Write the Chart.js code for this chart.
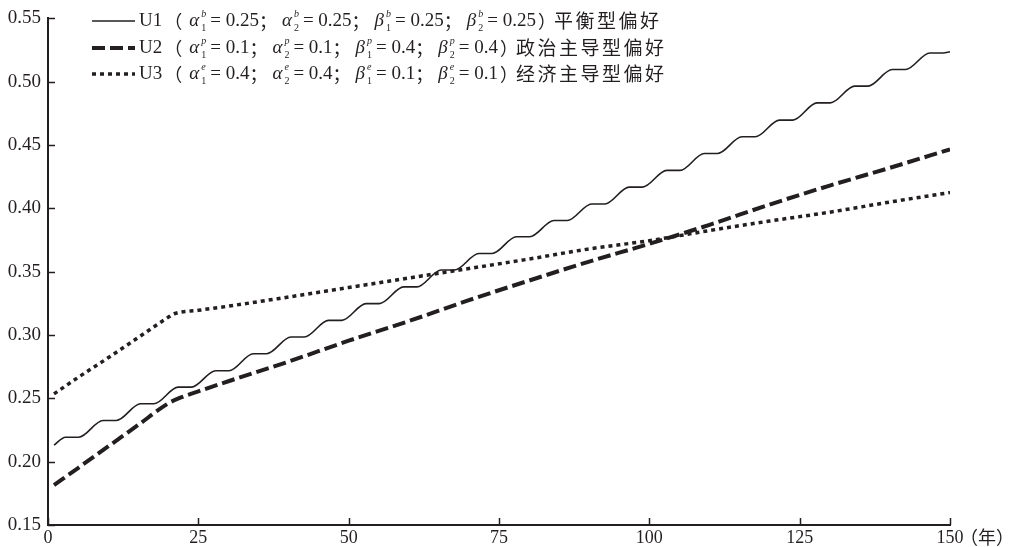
<!DOCTYPE html>
<html>
<head>
<meta charset="utf-8">
<script src="https://cdn.jsdelivr.net/npm/chart.js@4.4.0/dist/chart.umd.min.js"></script>
<style>
html, body { margin: 0; padding: 0; background: #fff; }
#wrap { width: 1017px; height: 547px; }
</style>
</head>
<body>
<div id="wrap"><canvas id="myChart" width="1017" height="547"></canvas></div>
<script>
// values
const xTicks = [0, 25, 50, 75, 100, 125, 150];
const yTicks = [0.15, 0.20, 0.25, 0.30, 0.35, 0.40, 0.45, 0.50, 0.55];

// U1: wavy line, plateau edges then rises
const u1Years = [1,
    2.9, 5.1, 9.15, 11.35, 15.4, 17.6, 21.65, 23.85, 27.9, 30.1, 34.15, 36.35,
    40.4, 42.6, 46.65, 48.85, 52.9, 55.1, 59.15, 61.35, 65.4, 67.6, 71.65, 73.85,
    77.9, 80.1, 84.15, 86.35, 90.4, 92.6, 96.65, 98.85, 102.9, 105.1, 109.15, 111.35,
    115.4, 117.6, 121.65, 123.85, 127.9, 130.1, 134.15, 136.35, 140.4, 142.6, 146.65, 148.85,
    150];
const u1Values = [0.213,
    0.2193, 0.2193, 0.2325, 0.2325, 0.2457, 0.2457, 0.2589, 0.2589, 0.2718, 0.2718, 0.2852, 0.2852,
    0.2984, 0.2984, 0.3116, 0.3116, 0.3248, 0.3248, 0.3380, 0.3380, 0.3513, 0.3513, 0.3644, 0.3644,
    0.3776, 0.3776, 0.3904, 0.3904, 0.4035, 0.4035, 0.4168, 0.4168, 0.4300, 0.4300, 0.4433, 0.4433,
    0.4565, 0.4565, 0.4697, 0.4697, 0.4833, 0.4833, 0.4965, 0.4965, 0.5096, 0.5096, 0.5227, 0.5227,
    0.5237];

const u2Years = [1, 5, 10, 15, 20, 22, 25, 30, 40, 50, 60, 70, 80, 90, 100, 110, 120, 130, 140, 150];
const u2Values = [0.1815, 0.195, 0.212, 0.229, 0.246, 0.2505, 0.2555, 0.2635, 0.279, 0.2955, 0.311,
    0.3275, 0.343, 0.358, 0.372, 0.387, 0.403, 0.418, 0.432, 0.4466];

const u3Years = [1, 5, 10, 15, 20, 21, 25, 30, 40, 50, 60, 70, 80, 90, 100, 110, 120, 130, 140, 150];
const u3Values = [0.2535, 0.2665, 0.282, 0.298, 0.314, 0.3168, 0.3195, 0.3228, 0.330, 0.3375, 0.345,
    0.3525, 0.360, 0.368, 0.3745, 0.3825, 0.390, 0.397, 0.405, 0.4125];

const seriesNames = ["U1", "U2", "U3"];
const prefNames = ["平衡型偏好", "政治主导型偏好", "经济主导型偏好"];
const prefSup = ["b", "p", "e"];
const prefVals = [
    ["0.25", "0.25", "0.25", "0.25"],
    ["0.1", "0.1", "0.4", "0.4"],
    ["0.4", "0.4", "0.1", "0.1"]
];

const ink = "#231f20";
const serif = '"Liberation Serif", "DejaVu Serif", serif';
const cjk = '"Noto Sans CJK SC", sans-serif';

function pts(xs, ys) {
    return xs.map(function (x, i) { return { x: x, y: ys[i] }; });
}

const lineStyles = [
    { width: 1.6, dash: [] },
    { width: 4, dash: [13, 5] },
    { width: 3.5, dash: [4, 4] }
];

// inward ticks, legend and the (年) unit
const frame = {
    id: "frame",
    afterDraw(chart) {
        const ctx = chart.ctx;
        const xs = chart.scales.x, ys = chart.scales.y;
        const a = chart.chartArea;
        ctx.save();
        ctx.strokeStyle = ink;
        ctx.lineWidth = 1.5;
        xTicks.forEach(function (t) {
            const px = Math.round(xs.getPixelForValue(t)) + 0.5;
            ctx.beginPath(); ctx.moveTo(px, a.bottom); ctx.lineTo(px, a.bottom - 7); ctx.stroke();
        });
        yTicks.forEach(function (t) {
            const py = Math.round(ys.getPixelForValue(t)) + 0.5;
            ctx.beginPath(); ctx.moveTo(a.left, py); ctx.lineTo(a.left + 7, py); ctx.stroke();
        });

        ctx.fillStyle = ink;
        ctx.textBaseline = "middle";
        ctx.font = "18px " + cjk;
        ctx.fillText("（年）", a.right + 10, a.bottom + 12);

        const rowY = [21, 48, 74];
        for (let i = 0; i < 3; i++) {
            const y = rowY[i];
            ctx.save();
            ctx.lineWidth = lineStyles[i].width;
            ctx.setLineDash(lineStyles[i].dash);
            ctx.beginPath(); ctx.moveTo(92, y); ctx.lineTo(135, y); ctx.stroke();
            ctx.restore();

            let x = 139;
            ctx.font = "19px " + serif;
            ctx.fillText(seriesNames[i], x, y);
            x += ctx.measureText(seriesNames[i]).width + 2;
            ctx.font = "18px " + cjk;
            ctx.fillText("（", x, y);
            x += ctx.measureText("（").width + 7;
            for (let k = 0; k < 4; k++) {
                const sym = k < 2 ? "α" : "β";
                ctx.font = "italic 19px " + serif;
                ctx.fillText(sym, x, y);
                x += ctx.measureText(sym).width + 2;
                ctx.font = "italic 10px " + serif;
                ctx.fillText(prefSup[i], x, y - 7);
                ctx.font = "10px " + serif;
                ctx.fillText(String(k % 2 + 1), x, y + 7);
                x += 9;
                ctx.font = "19px " + serif;
                const v = "= " + prefVals[i][k];
                ctx.fillText(v, x, y);
                x += ctx.measureText(v).width;
                if (k < 3) {
                    ctx.font = "18px " + cjk;
                    ctx.fillText("；", x, y);
                    x += ctx.measureText("；").width + 5;
                }
            }
            ctx.font = "18px " + cjk;
            ctx.fillText("）", x + 2, y);
            x += ctx.measureText("）").width;
            ctx.save();
            ctx.font = "19px " + cjk;
            ctx.letterSpacing = "2.5px";
            ctx.fillText(prefNames[i], x, y);
            ctx.restore();
        }
        ctx.restore();
    }
};

const ctx = document.getElementById("myChart").getContext("2d");
const myChart = new Chart(ctx, {
    type: "line",
    data: {
        datasets: [
            { label: "U1", data: pts(u1Years, u1Values), borderColor: ink, borderWidth: lineStyles[0].width,
              pointRadius: 0, cubicInterpolationMode: "monotone", fill: false },
            { label: "U2", data: pts(u2Years, u2Values), borderColor: ink, borderWidth: lineStyles[1].width,
              borderDash: lineStyles[1].dash, pointRadius: 0, cubicInterpolationMode: "monotone", fill: false },
            { label: "U3", data: pts(u3Years, u3Values), borderColor: ink, borderWidth: lineStyles[2].width,
              borderDash: lineStyles[2].dash, pointRadius: 0, cubicInterpolationMode: "monotone", fill: false }
        ]
    },
    options: {
        responsive: false,
        animation: false,
        layout: { padding: { top: 17, right: 67, left: 0, bottom: 0 } },
        plugins: { legend: { display: false }, tooltip: { enabled: false } },
        scales: {
            x: {
                type: "linear", min: 0, max: 150,
                afterBuildTicks: function (s) { s.ticks = xTicks.map(function (v) { return { value: v }; }); },
                ticks: { color: ink, font: { family: serif, size: 18 }, padding: 2, maxRotation: 0, autoSkip: false },
                grid: { display: false, drawTicks: false },
                border: { color: ink, width: 2 },
                afterFit: function (s) { s.height = 22; }
            },
            y: {
                min: 0.15, max: 0.55,
                afterBuildTicks: function (s) { s.ticks = yTicks.map(function (v) { return { value: v }; }); },
                ticks: { color: ink, font: { family: serif, size: 19 }, padding: 7,
                         callback: function (v) { return v.toFixed(2); } },
                grid: { display: false, drawTicks: false },
                border: { color: ink, width: 2 },
                afterFit: function (s) { s.width = 48; }
            }
        }
    },
    plugins: [frame]
});
</script>
</body>
</html>
